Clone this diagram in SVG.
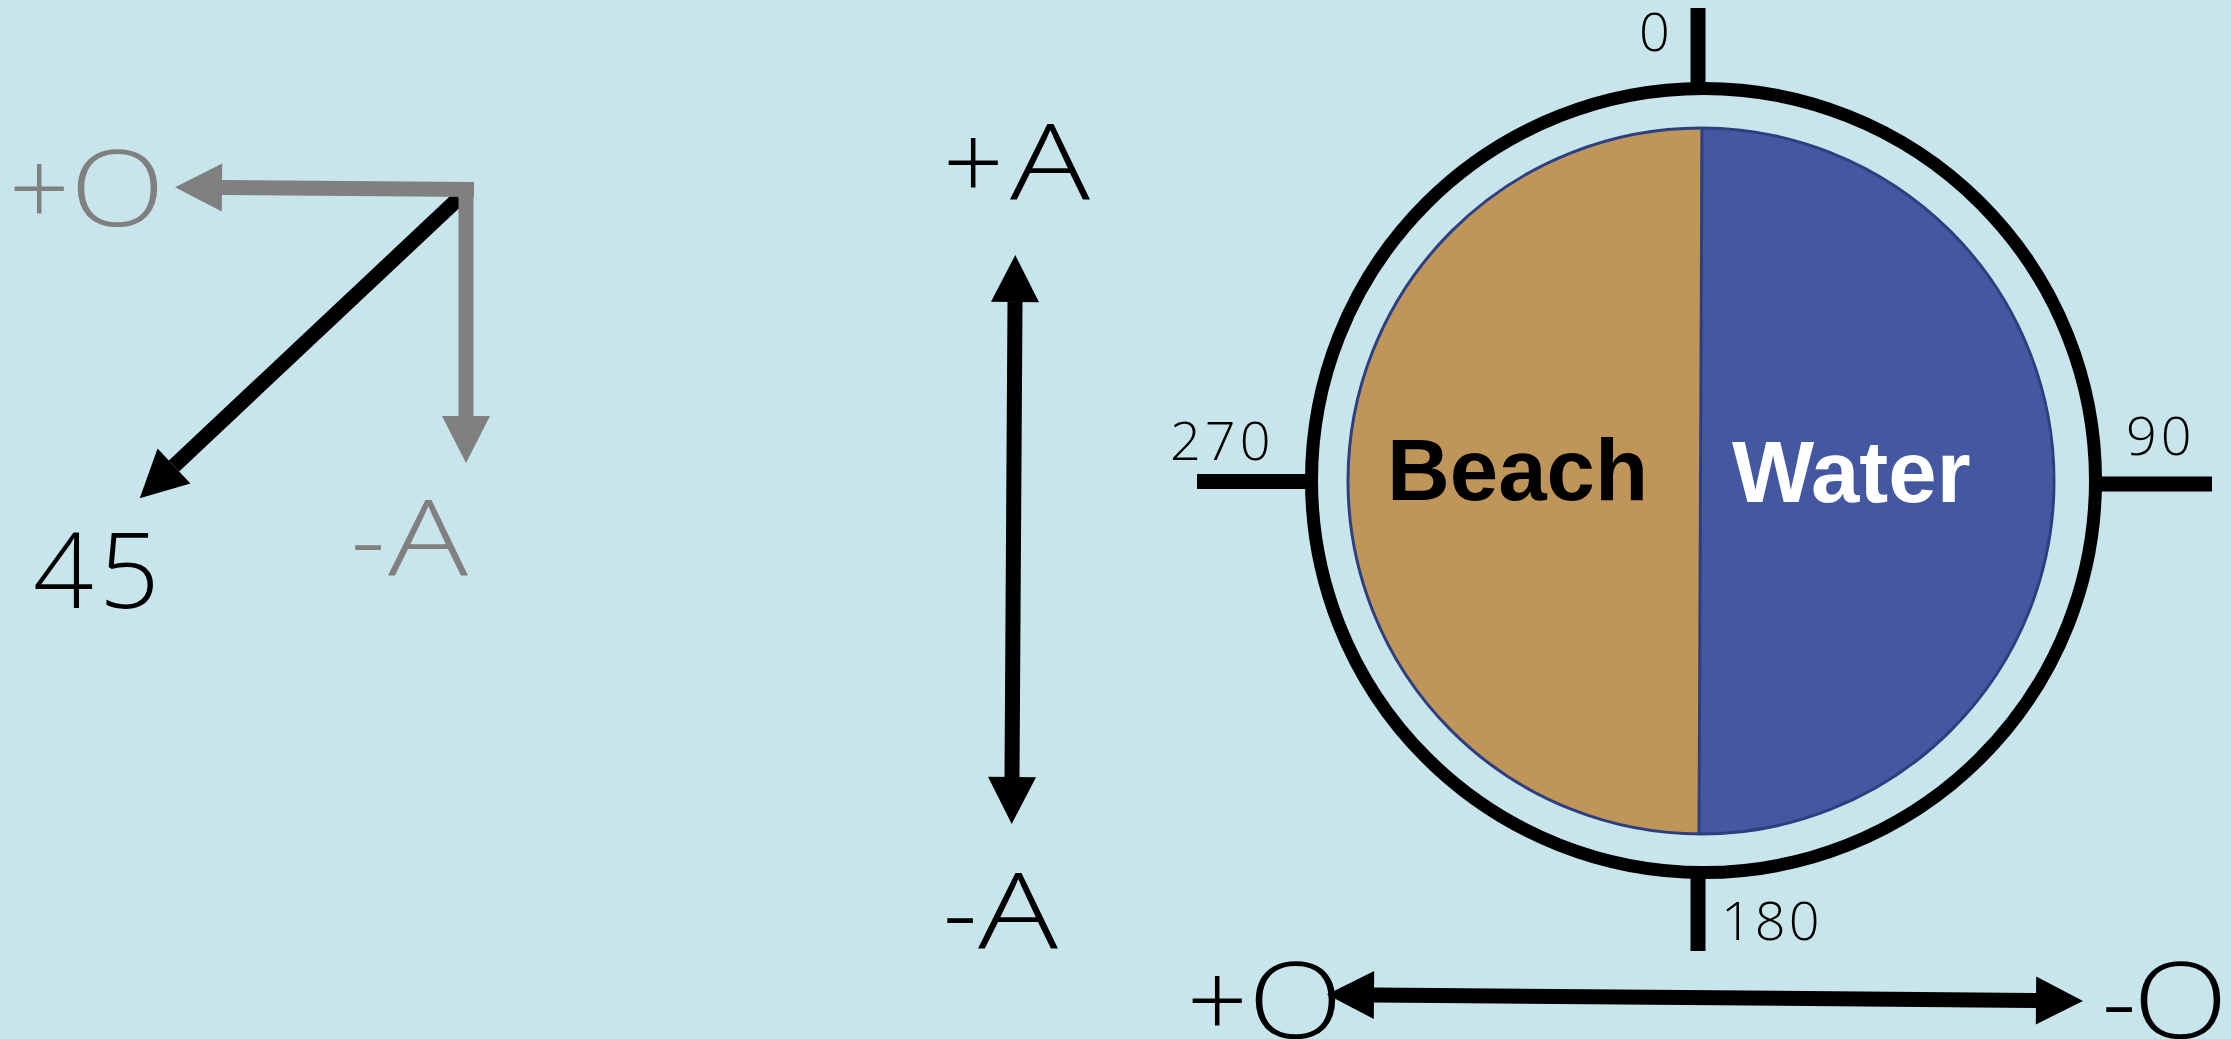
<svg xmlns="http://www.w3.org/2000/svg" width="2231" height="1039" viewBox="0 0 2231 1039">
<style>
.bg{fill:#C8E5EC}
.lbl{font-family:"Open Sans","Liberation Sans",sans-serif;font-weight:300;font-size:106px}
.num{font-family:"Open Sans","Liberation Sans",sans-serif;font-weight:300;font-size:54px;fill:#000}
.gray{fill:#808080}
.blk{fill:#000}
.big{font-family:"Liberation Sans",Arial,sans-serif;font-weight:bold;font-size:87px}
.tick{stroke:#000;stroke-width:15;fill:none}
.ga{stroke:#808080;stroke-width:15;fill:none}
.ba{stroke:#000;stroke-width:15;fill:none}
</style>
<defs>
<marker id="hg" markerUnits="userSpaceOnUse" viewBox="0 -24 48 48" refX="0" refY="0" markerWidth="48" markerHeight="48" orient="auto-start-reverse" overflow="visible"><path d="M0,-24 L47,0 L0,24 Z" fill="#808080"/></marker>
<marker id="hb" markerUnits="userSpaceOnUse" viewBox="0 -24 48 48" refX="0" refY="0" markerWidth="48" markerHeight="48" orient="auto-start-reverse" overflow="visible"><path d="M0,-24 L47,0 L0,24 Z" fill="#000"/></marker>
</defs>
<rect class="bg" x="0" y="0" width="2231" height="1039"/>

<g id="connectors">
<line class="ba" x1="459" y1="198" x2="174" y2="466" stroke-width="14" marker-end="url(#hb)"/>
<line class="ga" x1="474" y1="189.5" x2="222" y2="187.5" marker-end="url(#hg)"/>
<line class="ga" x1="466" y1="182" x2="466" y2="416" marker-end="url(#hg)"/>
<line class="ba" x1="1015" y1="302" x2="1012" y2="777" stroke-width="16" marker-start="url(#hb)" marker-end="url(#hb)"/>
<line class="ba" x1="1374" y1="995" x2="2036" y2="1000.5" stroke-width="16" marker-start="url(#hb)" marker-end="url(#hb)"/>
</g>

<g id="label-plusO-top"><text class="lbl gray" y="226"><tspan x="9">+</tspan><tspan x="70" textLength="95" lengthAdjust="spacingAndGlyphs">O</tspan></text></g>
<g id="label-45"><text class="lbl blk" x="33 99" y="608">45</text></g>
<g id="label-minusA-top"><text class="lbl gray" y="576"><tspan x="351">-</tspan><tspan x="388" textLength="80" lengthAdjust="spacingAndGlyphs">A</tspan></text></g>
<g id="label-plusA"><text class="lbl blk" y="200"><tspan x="943">+</tspan><tspan x="1010" textLength="80" lengthAdjust="spacingAndGlyphs">A</tspan></text></g>
<g id="label-minusA"><text class="lbl blk" y="949"><tspan x="943">-</tspan><tspan x="978" textLength="80" lengthAdjust="spacingAndGlyphs">A</tspan></text></g>
<g id="label-plusO"><text class="lbl blk" y="1038"><tspan x="1187">+</tspan><tspan x="1248" textLength="95" lengthAdjust="spacingAndGlyphs">O</tspan></text></g>
<g id="label-minusO"><text class="lbl blk" y="1038"><tspan x="2102">-</tspan><tspan x="2133" textLength="95" lengthAdjust="spacingAndGlyphs">O</tspan></text></g>

<g id="compass">
<line class="tick" x1="1698" y1="8" x2="1698" y2="90" stroke-width="16"/>
<line class="tick" x1="1197" y1="481.5" x2="1312" y2="481.5"/>
<line class="tick" x1="2095" y1="484" x2="2212" y2="484" stroke-width="16"/>
<line class="tick" x1="1698" y1="870" x2="1698" y2="951"/>
<circle cx="1703.5" cy="480.5" r="392" fill="none" stroke="#000" stroke-width="13"/>
<text class="num" x="1639" y="51">0</text>
<text class="num" x="1170" y="460" letter-spacing="4">270</text>
<text class="num" x="2126" y="455" letter-spacing="4">90</text>
<text class="num" x="1721" y="940" letter-spacing="3">180</text>
</g>

<g id="beach">
<path d="M1700.5,128 A353,353 0 0 0 1699.5,834 Z" fill="#C0955A"/>
</g>
<g id="water">
<path d="M1700.5,128 A353,353 0 0 1 1699.5,834 Z" fill="#4457A1"/>
</g>
<circle cx="1701" cy="481" r="353" fill="none" stroke="#2E3F80" stroke-width="3"/>
<line x1="1702" y1="128" x2="1699" y2="834" stroke="#2E3F80" stroke-width="3"/>
<text class="big blk" x="1387" y="500">Beach</text>
<text class="big" x="1732" y="502" fill="#fff">Water</text>
</svg>
